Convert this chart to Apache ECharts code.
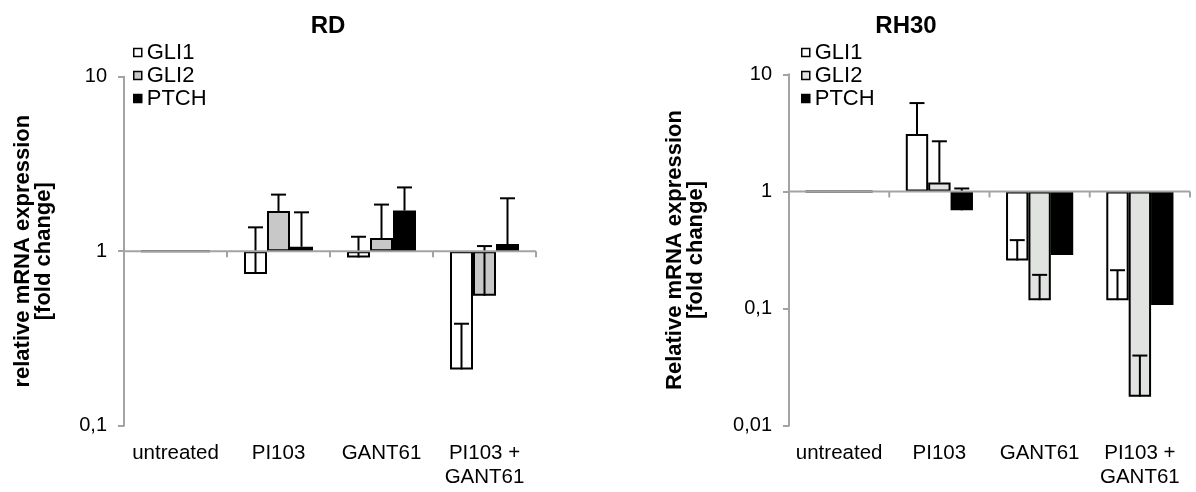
<!DOCTYPE html>
<html><head><meta charset="utf-8">
<script src="https://cdn.jsdelivr.net/npm/echarts@6/dist/echarts.min.js"></script>
<style>html,body{margin:0;padding:0;background:#fff}#c{width:1196px;height:492px}</style>
</head><body><div id="c"></div>
<script>
// ---- data ----
const categories = ['untreated', 'PI103', 'GANT61', 'PI103 +\nGANT61'];
const genes = ['GLI1', 'GLI2', 'PTCH'];
// RD
const rdGLI1 = [1, 0.74, 0.92, 0.21];
const rdGLI2 = [1, 1.70, 1.19, 0.555];
const rdPTCH = [1, 1.06, 1.71, 1.10];
const rdGLI1Upper = [null, 1.37, 1.21, 0.384];
const rdGLI2Upper = [null, 2.11, 1.85, 1.07];
const rdPTCHUpper = [null, 1.67, 2.32, 2.01];
// RH30
const rhGLI1 = [1, 3.09, 0.257, 0.118];
const rhGLI2 = [1, 1.19, 0.118, 0.0177];
const rhPTCH = [1, 0.69, 0.287, 0.107];
const rhGLI1Upper = [null, 5.68, 0.384, 0.2125];
const rhGLI2Upper = [null, 2.68, 0.194, 0.0397];
const rhPTCHUpper = [null, 1.06, null, null];
const rdTicks = [0.1, 1, 10];
const rhTicks = [0.01, 0.1, 1, 10];

const CAT_GAP = 0.33;
const AXIS_GRAY = '#a3a3a3';
const FONT = 'Liberation Sans, Arial, sans-serif';

function fmt(v) { return String(+v.toPrecision(6)).replace('.', ','); }

function errSeries(idx, k, vals, uppers) {
  const data = [];
  vals.forEach((v, i) => { if (uppers[i] != null) data.push([i, uppers[i], v]); });
  return {
    type: 'custom', xAxisIndex: idx, yAxisIndex: idx, z: 5, silent: true,
    data: data,
    renderItem: function (params, api) {
      const ci = api.value(0);
      const band = api.size([1, 0], [ci, 1])[0];
      const w = band * (1 - CAT_GAP) / 3;
      const xc = api.coord([ci, 1])[0] + (k - 1) * w;
      const yv = api.coord([ci, api.value(2)])[1];
      const yu = api.coord([ci, api.value(1)])[1];
      const cap = 7.5;
      const st = { stroke: '#000', lineWidth: 2 };
      return { type: 'group', children: [
        { type: 'line', shape: { x1: xc, y1: yv, x2: xc, y2: yu }, style: st },
        { type: 'line', shape: { x1: xc - cap, y1: yu, x2: xc + cap, y2: yu }, style: st }
      ]};
    }
  };
}

function baseSeries(idx) {
  return {
    type: 'custom', xAxisIndex: idx, yAxisIndex: idx, z: 10, silent: true,
    data: categories.map((c, i) => [i, 1]),
    renderItem: function (params, api) {
      const ci = api.value(0);
      const band = api.size([1, 0], [ci, 1])[0];
      const p = api.coord([ci, 1]);
      const x0 = p[0] - band / 2, x1 = p[0] + band / 2, y = p[1];
      const st = { stroke: AXIS_GRAY, lineWidth: 2 };
      return { type: 'group', children: [
        { type: 'line', shape: { x1: x0, y1: y, x2: x1, y2: y }, style: st },
        { type: 'line', shape: { x1: x1, y1: y, x2: x1, y2: y + 6 }, style: st }
      ]};
    }
  };
}

function barSeries(idx, name, vals, color) {
  return {
    type: 'bar', name: name, xAxisIndex: idx, yAxisIndex: idx, data: vals,
    barGap: '0%', barCategoryGap: (CAT_GAP * 100) + '%',
    itemStyle: { color: color, borderColor: '#000', borderWidth: 2 },
    emphasis: { disabled: true }
  };
}

function yAxis(idx, min, max, name, gap) {
  return {
    type: 'log', logBase: 10, gridIndex: idx, min: min, max: max,
    name: name, nameLocation: 'middle', nameRotate: 90, nameGap: gap,
    nameTextStyle: { fontFamily: FONT, fontWeight: 'bold', fontSize: 22, lineHeight: 21, color: '#000' },
    axisLine: { show: true, lineStyle: { color: AXIS_GRAY, width: 2 } },
    axisTick: { show: true, inside: false, length: 6, lineStyle: { color: AXIS_GRAY, width: 2 } },
    minorTick: { show: false }, splitLine: { show: false },
    axisLabel: { fontFamily: FONT, fontSize: 20, color: '#000', margin: 17, formatter: fmt }
  };
}

function xAxis(idx) {
  return {
    type: 'category', gridIndex: idx, data: categories,
    axisLine: { show: false }, axisTick: { show: false },
    axisLabel: { interval: 0, fontFamily: FONT, fontSize: 20.5, lineHeight: 23.5, color: '#000', margin: 16 }
  };
}

function legend(left, top, gli2Color) {
  return {
    left: left, top: top, orient: 'vertical', padding: 0, itemGap: 0,
    itemWidth: 8, itemHeight: 8, icon: 'rect', selectedMode: false,
    itemStyle: { borderColor: '#000', borderWidth: 1.5 },
    textStyle: { fontFamily: FONT, fontSize: 22, color: '#000', lineHeight: 14, padding: [9, 0, 0, 0] },
    data: [
      { name: 'GLI1', itemStyle: { color: '#fff' } },
      { name: 'GLI2', itemStyle: { color: gli2Color } },
      { name: 'PTCH', itemStyle: { color: '#000' } }
    ]
  };
}

const chart = echarts.init(document.getElementById('c'), null, { renderer: 'canvas' });
chart.setOption({
  animation: false,
  backgroundColor: '#fff',
  title: [
    { text: 'RD', left: 323, top: 9, textAlign: 'center', textStyle: { fontFamily: FONT, fontWeight: 'bold', fontSize: 24, color: '#000' } },
    { text: 'RH30', left: 901, top: 9, textAlign: 'center', textStyle: { fontFamily: FONT, fontWeight: 'bold', fontSize: 24, color: '#000' } }
  ],
  legend: [legend(133, 41, '#c8c8c8'), legend(801, 41, '#e1e3e1')],
  grid: [
    { left: 124, top: 76.7, width: 412, height: 349, containLabel: false },
    { left: 789, top: 74.3, width: 401, height: 351.4, containLabel: false }
  ],
  xAxis: [xAxis(0), xAxis(1)],
  yAxis: [
    yAxis(0, rdTicks[0], rdTicks[rdTicks.length - 1], 'relative mRNA expression\n[fold change]', 70),
    yAxis(1, rhTicks[0], rhTicks[rhTicks.length - 1], 'Relative mRNA expression\n[fold change]', 83)
  ],
  series: [
    barSeries(0, 'GLI1', rdGLI1, '#fff'),
    barSeries(0, 'GLI2', rdGLI2, '#c8c8c8'),
    barSeries(0, 'PTCH', rdPTCH, '#000'),
    errSeries(0, 0, rdGLI1, rdGLI1Upper),
    errSeries(0, 1, rdGLI2, rdGLI2Upper),
    errSeries(0, 2, rdPTCH, rdPTCHUpper),
    baseSeries(0),
    barSeries(1, 'GLI1', rhGLI1, '#fff'),
    barSeries(1, 'GLI2', rhGLI2, '#e1e3e1'),
    barSeries(1, 'PTCH', rhPTCH, '#000'),
    errSeries(1, 0, rhGLI1, rhGLI1Upper),
    errSeries(1, 1, rhGLI2, rhGLI2Upper),
    errSeries(1, 2, rhPTCH, rhPTCHUpper),
    baseSeries(1)
  ]
});
</script></body></html>
